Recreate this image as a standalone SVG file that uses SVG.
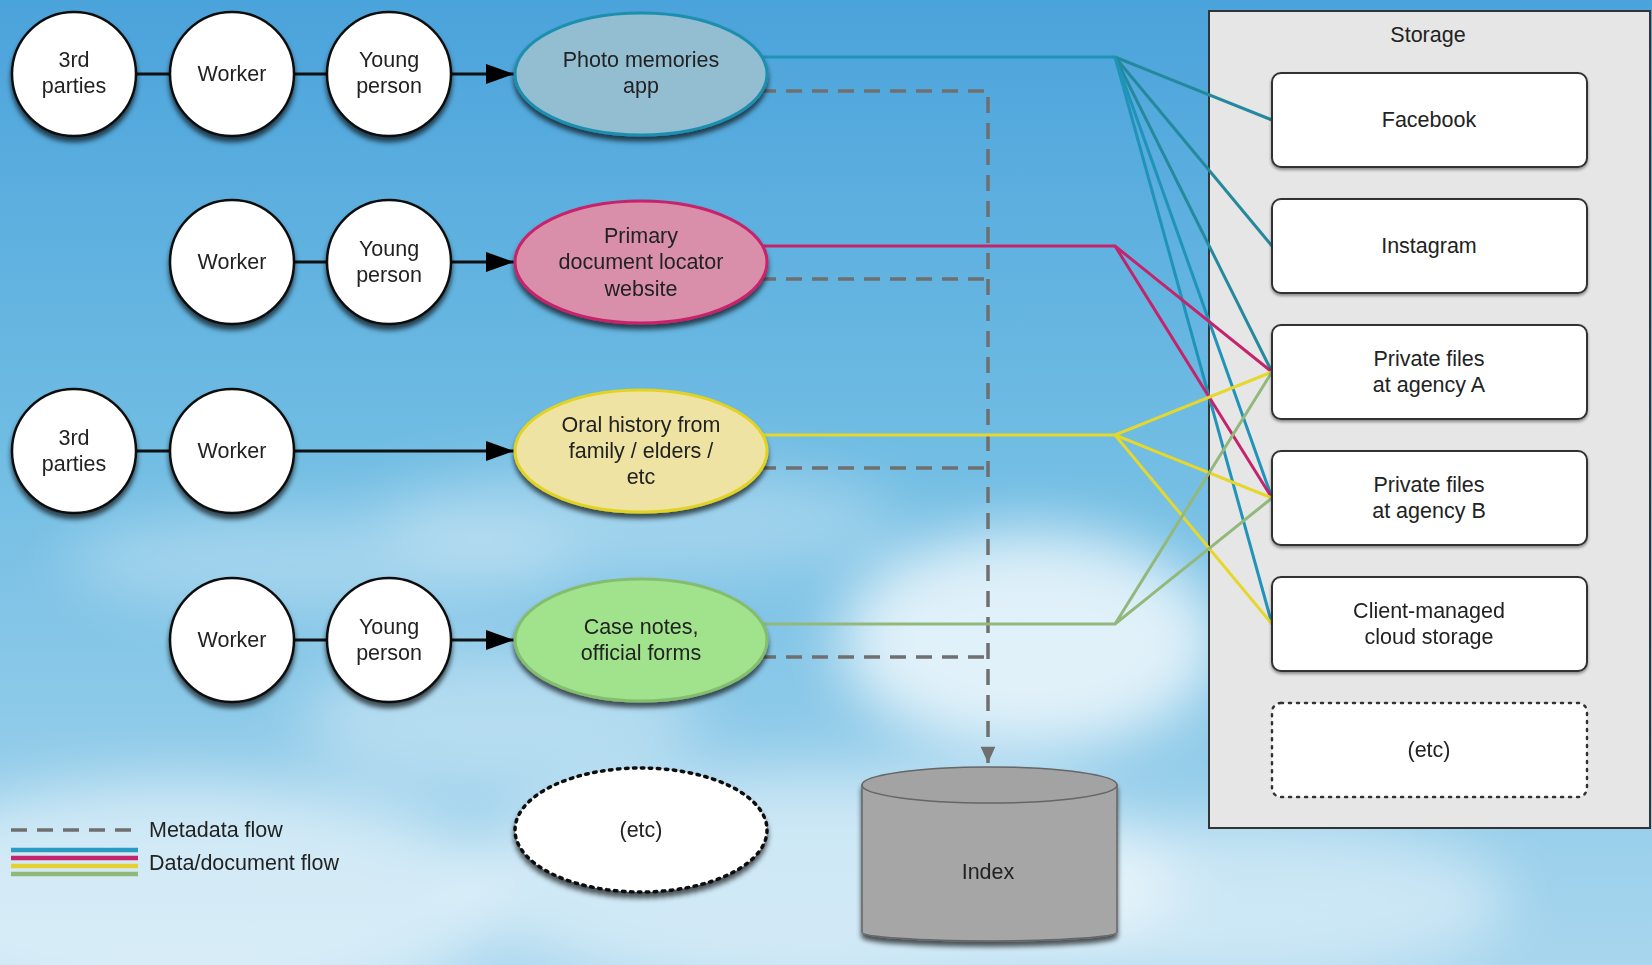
<svg xmlns="http://www.w3.org/2000/svg" width="1652" height="965" viewBox="0 0 1652 965">
<defs>
<linearGradient id="sky" x1="0" y1="0" x2="0" y2="1">
<stop offset="0" stop-color="#4ba3db"/>
<stop offset="0.45" stop-color="#6fbce3"/>
<stop offset="1" stop-color="#a8d6ee"/>
</linearGradient>
<filter id="blur" x="-50%" y="-50%" width="200%" height="200%"><feGaussianBlur stdDeviation="30"/></filter>
<filter id="shadow" x="-20%" y="-20%" width="140%" height="150%"><feDropShadow dx="0" dy="5" stdDeviation="2.5" flood-color="#000" flood-opacity="0.65"/></filter>
<filter id="shadowS" x="-20%" y="-20%" width="140%" height="150%"><feDropShadow dx="0" dy="2" stdDeviation="1.5" flood-color="#000" flood-opacity="0.4"/></filter>
<marker id="arrow" viewBox="0 0 28 20" refX="28" refY="10" markerWidth="28" markerHeight="20" markerUnits="userSpaceOnUse" orient="auto"><path d="M0,0 L28,10 L0,20 Z" fill="#000"/></marker>
<marker id="garrow" viewBox="0 0 20 22" refX="20" refY="9" markerWidth="20" markerHeight="18" markerUnits="userSpaceOnUse" orient="auto"><path d="M0,0 L20,9 L0,18 Z" fill="#6f6f6f"/></marker>
</defs>
<style>
text{font-family:"Liberation Sans",Arial,sans-serif;font-size:21.5px;fill:#222;text-anchor:middle}
.circ{fill:#fff;stroke:#111;stroke-width:2.5;filter:url(#shadow)}
.link{stroke:#111;stroke-width:3;fill:none}
.box{fill:#fff;stroke:#333;stroke-width:2;filter:url(#shadowS)}
.meta{stroke:#6f6f6f;stroke-width:3.5;stroke-dasharray:16 10;fill:none}
.blue{stroke:#1f93b8;stroke-width:3;fill:none}
.teal{stroke:#24899c;stroke-width:3;fill:none}
.pink{stroke:#c4246c;stroke-width:3;fill:none}
.yel{stroke:#e6d72c;stroke-width:3;fill:none}
.grn{stroke:#92b87c;stroke-width:3;fill:none}
</style>

<rect x="0" y="0" width="1652" height="965" fill="url(#sky)"/>
<g id="clouds" filter="url(#blur)" fill="#fff">
<ellipse cx="180" cy="900" rx="320" ry="120" opacity="0.55"/>
<ellipse cx="320" cy="560" rx="260" ry="50" opacity="0.3"/>
<ellipse cx="1030" cy="640" rx="190" ry="110" opacity="0.75"/>
<ellipse cx="820" cy="880" rx="360" ry="110" opacity="0.5"/>
<ellipse cx="1250" cy="900" rx="260" ry="80" opacity="0.45"/>
<ellipse cx="640" cy="520" rx="260" ry="55" opacity="0.3"/>
<ellipse cx="500" cy="720" rx="200" ry="70" opacity="0.35"/>
</g>

<g id="storage">
<rect x="1209" y="11" width="441" height="817" fill="#e6e6e6" stroke="#333" stroke-width="2"/>
<text x="1428" y="42">Storage</text>
</g>

<g id="connectors">
<line class="link" x1="136" y1="74" x2="170" y2="74"/>
<line class="link" x1="294" y1="74" x2="327" y2="74"/>
<line class="link" x1="451" y1="74" x2="514" y2="74" marker-end="url(#arrow)"/>
<line class="link" x1="294" y1="262" x2="327" y2="262"/>
<line class="link" x1="451" y1="262" x2="514" y2="262" marker-end="url(#arrow)"/>
<line class="link" x1="136" y1="451" x2="170" y2="451"/>
<line class="link" x1="294" y1="451" x2="514" y2="451" marker-end="url(#arrow)"/>
<line class="link" x1="294" y1="640" x2="327" y2="640"/>
<line class="link" x1="451" y1="640" x2="514" y2="640" marker-end="url(#arrow)"/>

<path class="meta" d="M760,91 H988 V763" marker-end="url(#garrow)"/>
<path class="meta" d="M760,279 H988"/>
<path class="meta" d="M760,468 H988"/>
<path class="meta" d="M760,657 H988"/>

<path class="blue" d="M760,57 H1115"/>
<path class="teal" d="M1115,57 L1272,120"/>
<path class="teal" d="M1115,57 L1272,246"/>
<path class="teal" d="M1115,57 L1272,372"/>
<path class="blue" d="M1115,57 L1272,498"/>
<path class="blue" d="M1115,57 L1272,624"/>

<path class="pink" d="M760,246 H1115 L1272,372 M1115,246 L1272,498"/>
<path class="yel" d="M760,435 H1115 L1272,372 M1115,435 L1272,498 M1115,435 L1272,624"/>
<path class="grn" d="M760,624 H1115 L1272,372 M1115,624 L1272,498"/>
</g>

<g id="n1-3rd"><circle class="circ" cx="74" cy="74" r="62"/><text x="74" y="67">3rd</text><text x="74" y="93">parties</text></g>
<g id="n1-worker"><circle class="circ" cx="232" cy="74" r="62"/><text x="232" y="81">Worker</text></g>
<g id="n1-young"><circle class="circ" cx="389" cy="74" r="62"/><text x="389" y="67">Young</text><text x="389" y="93">person</text></g>
<g id="photo"><ellipse cx="641" cy="74" rx="126" ry="61" fill="#93bed2" stroke="#1d8fae" stroke-width="3" filter="url(#shadow)"/><text x="641" y="67">Photo memories</text><text x="641" y="93">app</text></g>

<g id="n2-worker"><circle class="circ" cx="232" cy="262" r="62"/><text x="232" y="269">Worker</text></g>
<g id="n2-young"><circle class="circ" cx="389" cy="262" r="62"/><text x="389" y="256">Young</text><text x="389" y="282">person</text></g>
<g id="primary"><ellipse cx="641" cy="262" rx="126" ry="61" fill="#d98fa9" stroke="#c8206a" stroke-width="3" filter="url(#shadow)"/><text x="641" y="243">Primary</text><text x="641" y="269">document locator</text><text x="641" y="296">website</text></g>

<g id="n3-3rd"><circle class="circ" cx="74" cy="451" r="62"/><text x="74" y="445">3rd</text><text x="74" y="471">parties</text></g>
<g id="n3-worker"><circle class="circ" cx="232" cy="451" r="62"/><text x="232" y="458">Worker</text></g>
<g id="oral"><ellipse cx="641" cy="451" rx="126" ry="61" fill="#efe3a3" stroke="#e2d323" stroke-width="3" filter="url(#shadow)"/><text x="641" y="432">Oral history from</text><text x="641" y="458">family / elders /</text><text x="641" y="484">etc</text></g>

<g id="n4-worker"><circle class="circ" cx="232" cy="640" r="62"/><text x="232" y="647">Worker</text></g>
<g id="n4-young"><circle class="circ" cx="389" cy="640" r="62"/><text x="389" y="634">Young</text><text x="389" y="660">person</text></g>
<g id="casenotes"><ellipse cx="641" cy="640" rx="126" ry="61" fill="#a0e38c" stroke="#84bd6e" stroke-width="3" filter="url(#shadow)"/><text x="641" y="634">Case notes,</text><text x="641" y="660">official forms</text></g>

<g id="etc-source"><ellipse cx="641" cy="830" rx="126" ry="62" fill="#fff" stroke="#111" stroke-width="3.5" stroke-dasharray="2.5 5.5" stroke-linecap="round" filter="url(#shadow)"/><text x="641" y="837">(etc)</text></g>

<g id="index" filter="url(#shadow)">
<path d="M862,785 V932 A127.5,9 0 0 0 1117,932 V785 Z" fill="#a6a6a6" stroke="#666" stroke-width="1.5"/>
<ellipse cx="989.5" cy="785" rx="127.5" ry="18" fill="#a3a3a3" stroke="#666" stroke-width="1.5"/>
<text x="988" y="879">Index</text>
</g>

<g id="facebook"><rect class="box" x="1272" y="73" width="315" height="94" rx="9"/><text x="1429" y="127">Facebook</text></g>
<g id="instagram"><rect class="box" x="1272" y="199" width="315" height="94" rx="9"/><text x="1429" y="253">Instagram</text></g>
<g id="agencyA"><rect class="box" x="1272" y="325" width="315" height="94" rx="9"/><text x="1429" y="366">Private files</text><text x="1429" y="392">at agency A</text></g>
<g id="agencyB"><rect class="box" x="1272" y="451" width="315" height="94" rx="9"/><text x="1429" y="492">Private files</text><text x="1429" y="518">at agency B</text></g>
<g id="cloud"><rect class="box" x="1272" y="577" width="315" height="94" rx="9"/><text x="1429" y="618">Client-managed</text><text x="1429" y="644">cloud storage</text></g>
<g id="etc-storage"><rect x="1272" y="703" width="315" height="94" rx="9" fill="#fff" stroke="#333" stroke-width="2.5" stroke-dasharray="2 6" stroke-linecap="round"/><text x="1429" y="757">(etc)</text></g>

<g id="legend">
<line class="meta" x1="11" y1="830" x2="138" y2="830"/>
<text x="149" y="837" style="text-anchor:start">Metadata flow</text>
<line x1="11" y1="850" x2="138" y2="850" stroke="#2a9cc2" stroke-width="4.5"/>
<line x1="11" y1="858" x2="138" y2="858" stroke="#c4246c" stroke-width="4.5"/>
<line x1="11" y1="866" x2="138" y2="866" stroke="#e6cf30" stroke-width="4.5"/>
<line x1="11" y1="874" x2="138" y2="874" stroke="#90b87a" stroke-width="4.5"/>
<text x="149" y="870" style="text-anchor:start">Data/document flow</text>
</g>
</svg>
